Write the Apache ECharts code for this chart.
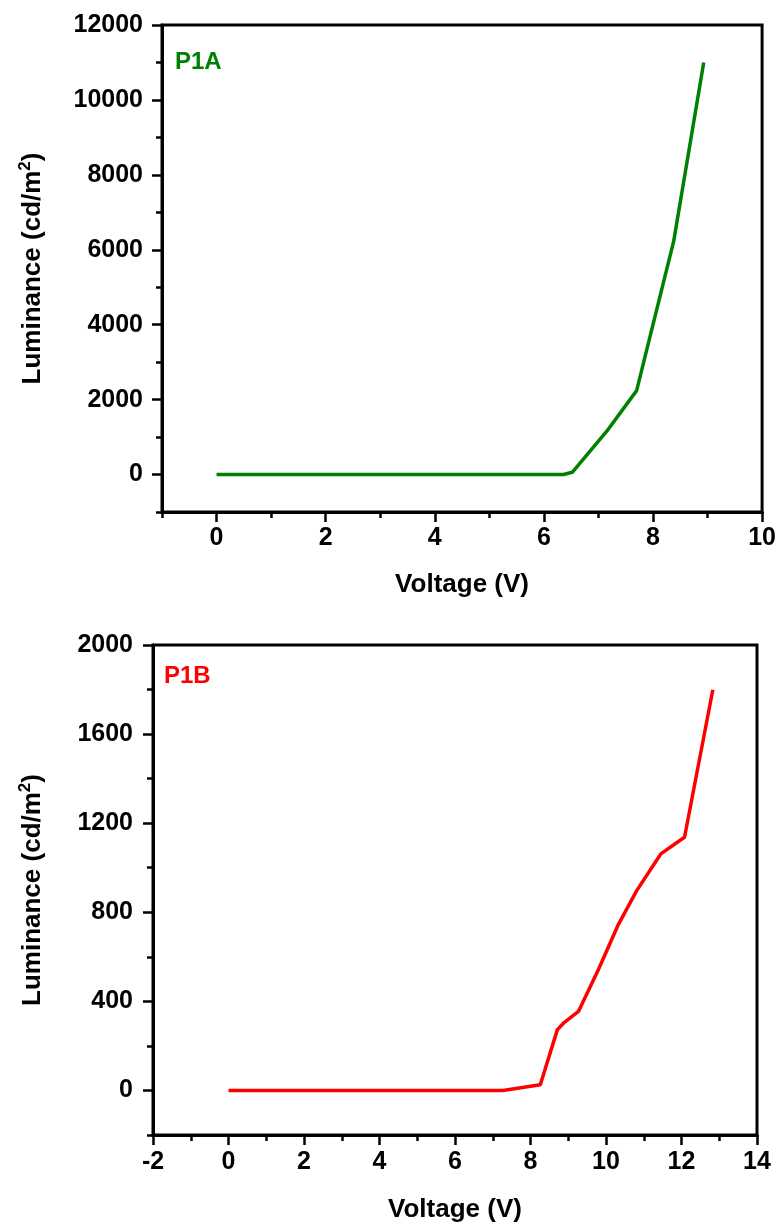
<!DOCTYPE html>
<html>
<head>
<meta charset="utf-8">
<script src="https://cdn.jsdelivr.net/npm/echarts@6/dist/echarts.min.js"></script>
<style>
html,body{margin:0;padding:0;background:#fff;}
#chart{width:779px;height:1225px;}
</style>
</head>
<body>
<div id="chart"></div>
<script>
// ---- Data ----
const voltageA = [0, 6.36, 6.52, 7.15, 7.70, 8.38, 8.93];
const luminanceA = [0, 0, 60, 1150, 2240, 6230, 11000];
const voltageB = [0, 7.27, 8.26, 8.71, 8.89, 9.27, 9.80, 10.33, 10.81, 11.45, 12.08, 12.83];
const luminanceB = [0, 0, 26, 272, 305, 355, 543, 746, 896, 1062, 1137, 1799];

const xTicksA = [0, 2, 4, 6, 8, 10];
const xMinorA = [-1, 1, 3, 5, 7, 9];
const yTicksA = [0, 2000, 4000, 6000, 8000, 10000, 12000];
const yMinorA = [-1000, 1000, 3000, 5000, 7000, 9000, 11000];
const xTicksB = [-2, 0, 2, 4, 6, 8, 10, 12, 14];
const xMinorB = [-1, 1, 3, 5, 7, 9, 11, 13];
const yTicksB = [0, 400, 800, 1200, 1600, 2000];
const yMinorB = [-200, 200, 600, 1000, 1400, 1800];

const labelA = 'P1A';
const labelB = 'P1B';
const xTitle = 'Voltage (V)';

// ---- Styles ----
const FONT = '"Liberation Sans", Arial, sans-serif';
const lab = {color: '#000', fontFamily: FONT, fontWeight: 'bold', fontSize: 25, formatter: v => String(v)};
const axLine = {show: true, onZero: false, lineStyle: {color: '#000', width: 3}};

function mainAxis(type, gi, min, max, ticks, margin, extra) {
  return Object.assign({
    type: 'value', gridIndex: gi, min: min, max: max,
    position: type === 'x' ? 'bottom' : 'left',
    splitLine: {show: false},
    axisLine: axLine,
    axisTick: {show: true, inside: false, length: 10, customValues: ticks, lineStyle: {color: '#000', width: 2.5}},
    axisLabel: Object.assign({customValues: ticks, margin: margin}, lab)
  }, extra || {});
}
function minorAxis(type, gi, min, max, ticks) {
  return {
    type: 'value', gridIndex: gi, min: min, max: max,
    position: type === 'x' ? 'bottom' : 'left',
    splitLine: {show: false},
    axisLine: {show: false, onZero: false},
    axisTick: {show: true, inside: false, length: 6, customValues: ticks, lineStyle: {color: '#000', width: 2.5}},
    axisLabel: {show: false}
  };
}
function yName() {
  return {
    name: '{t|Luminance (cd/m}{s|2}{t|)}',
    nameLocation: 'middle',
    nameRotate: 90,
    nameTextStyle: {
      rich: {
        t: {fontFamily: FONT, fontWeight: 'bold', fontSize: 26, color: '#000', verticalAlign: 'bottom'},
        s: {fontFamily: FONT, fontWeight: 'bold', fontSize: 17, color: '#000', verticalAlign: 'top', padding: [0, 0, 12, 0]}
      }
    }
  };
}
function xName(gap) {
  return {
    name: xTitle, nameLocation: 'middle', nameGap: gap,
    nameTextStyle: {fontFamily: FONT, fontWeight: 'bold', fontSize: 26, color: '#000'}
  };
}

const chart = echarts.init(document.getElementById('chart'), null, {renderer: 'canvas'});
chart.setOption({
  animation: false,
  backgroundColor: '#fff',
  grid: [
    {left: 162, top: 25, width: 601, height: 487, show: true, borderColor: '#000', borderWidth: 3, backgroundColor: 'transparent'},
    {left: 153, top: 645, width: 604, height: 490, show: true, borderColor: '#000', borderWidth: 3, backgroundColor: 'transparent'}
  ],
  xAxis: [
    mainAxis('x', 0, -1, 10, xTicksA, 14, xName(60)),
    minorAxis('x', 0, -1, 10, xMinorA),
    mainAxis('x', 1, -2, 14, xTicksB, 15, xName(62)),
    minorAxis('x', 1, -2, 14, xMinorB)
  ],
  yAxis: [
    mainAxis('y', 0, -1000, 12000, yTicksA, 19, Object.assign(yName(), {nameGap: 116})),
    minorAxis('y', 0, -1000, 12000, yMinorA),
    mainAxis('y', 1, -200, 2000, yTicksB, 20, Object.assign(yName(), {nameGap: 107})),
    minorAxis('y', 1, -200, 2000, yMinorB)
  ],
  graphic: [
    {type: 'text', left: 175, top: 50, style: {text: labelA, fill: '#008000', font: 'bold 24px ' + FONT}},
    {type: 'text', left: 164, top: 664, style: {text: labelB, fill: '#ff0000', font: 'bold 24px ' + FONT}}
  ],
  series: [
    {type: 'line', xAxisIndex: 0, yAxisIndex: 0, data: voltageA.map((v, i) => [v, luminanceA[i]]),
     showSymbol: false, lineStyle: {color: '#008000', width: 3.5}, itemStyle: {color: '#008000'}},
    {type: 'line', xAxisIndex: 2, yAxisIndex: 2, data: voltageB.map((v, i) => [v, luminanceB[i]]),
     showSymbol: false, lineStyle: {color: '#ff0000', width: 3.5}, itemStyle: {color: '#ff0000'}}
  ]
});
</script>
</body>
</html>
